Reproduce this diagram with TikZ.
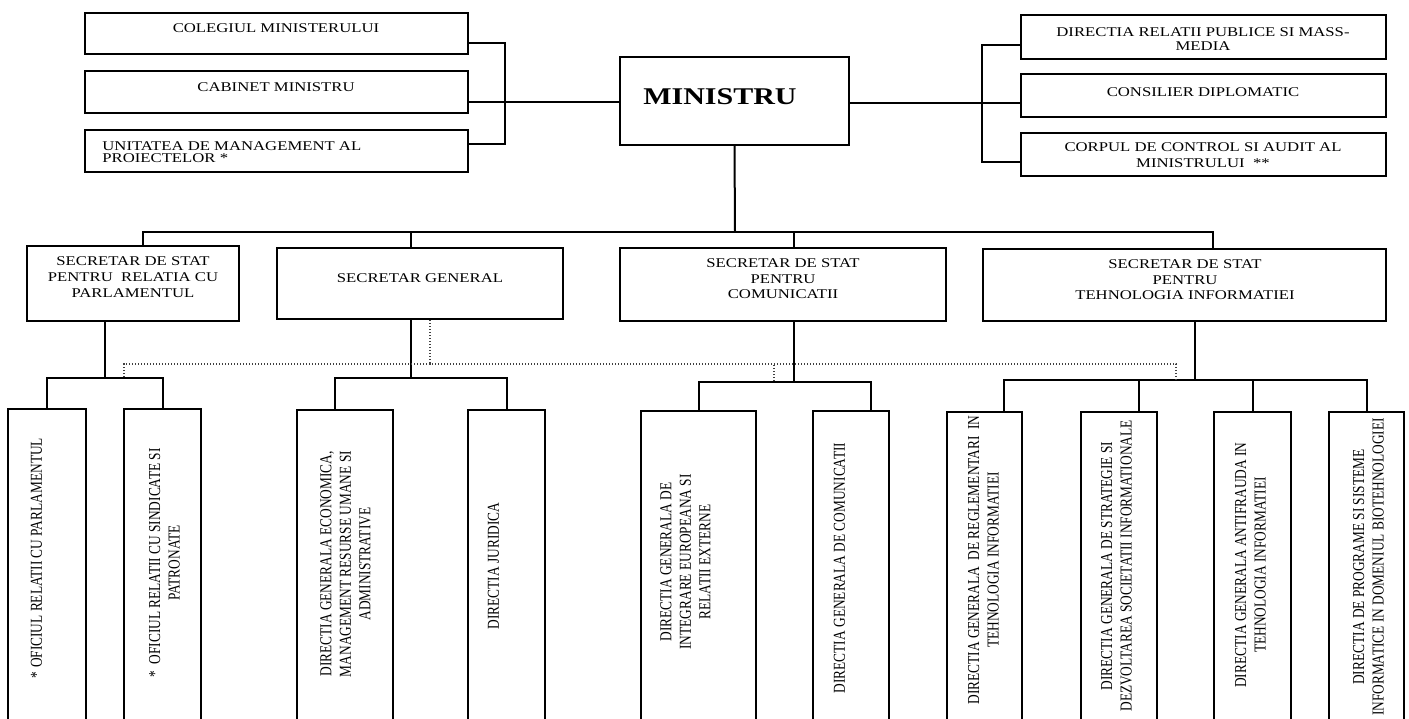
\documentclass[tikz,border=0pt]{standalone}
\usepackage{fontspec}
\setmainfont{Liberation Serif}
\usepackage{graphicx}
\usetikzlibrary{fit,calc}
\newcommand{\htx}[2]{\scalebox{1}[0.8]{\fontsize{8.35pt}{#1}\selectfont\begin{tabular}{@{}c@{}}#2\end{tabular}}}
\newcommand{\htl}[2]{\scalebox{1}[0.8]{\fontsize{8.35pt}{#1}\selectfont\begin{tabular}{@{}l@{}}#2\end{tabular}}}
\newcommand{\vtx}[1]{\scalebox{1}[0.8]{\rotatebox{90}{\fontsize{8.35pt}{9.75pt}\selectfont\begin{tabular}{@{}c@{}}#1\end{tabular}}}}
\tikzset{
  bx/.style={draw=black, line width=1pt, inner sep=0pt},
  tx/.style={inner sep=0pt, text=black},
  ln/.style={draw=black, line width=1pt},
  dt/.style={draw=black!75, line width=0.7pt, dash pattern=on 0.7pt off 0.8pt}
}
\begin{document}
\begin{tikzpicture}[x=0.5pt, y=-0.5pt]
\useasboundingbox (0,0) rectangle (1409,718);
\fill[white] (0,0) rectangle (1409,718);
\clip (0,0) rectangle (1409,718);

% ---- top left
\node[bx, fit={(85,13) (468,54)}] (colegiul) {};
\node[bx, fit={(85,71) (468,113)}] (cabinet) {};
\node[bx, fit={(85,130) (468,172)}] (unitatea) {};
\node[tx] at (276,29) {\htx{10pt}{COLEGIUL MINISTERULUI}};
\node[tx] at (276,88) {\htx{10pt}{CABINET MINISTRU}};
\node[tx, anchor=west] at (102,154) {\htl{7.8pt}{UNITATEA DE MANAGEMENT AL\\PROIECTELOR *}};

% ---- minister
\node[bx, fit={(620,57) (849,145)}] (ministru) {};
\node[tx] at (720,97) {\scalebox{1}[0.8]{\fontsize{15pt}{18pt}\selectfont\bfseries MINISTRU}};

% ---- top right
\node[bx, fit={(1021,15) (1386,59)}] (dirrel) {};
\node[bx, fit={(1021,74) (1386,117)}] (consilier) {};
\node[bx, fit={(1021,133) (1386,176)}] (corpul) {};
\node[tx] at (1203,41) {\htx{8.9pt}{DIRECTIA RELATII PUBLICE SI MASS-\\MEDIA}};
\node[tx] at (1203,93) {\htx{10pt}{CONSILIER DIPLOMATIC}};
\node[tx] at (1203,156.5) {\htx{9.4pt}{CORPUL DE CONTROL SI AUDIT AL\\MINISTRULUI\ \ **}};

% ---- secretaries
\node[bx, fit={(27,246) (239,321)}] (sec1) {};
\node[bx, fit={(277,248) (563,319)}] (secgen) {};
\node[bx, fit={(620,248) (946,321)}] (sec3) {};
\node[bx, fit={(983,249) (1386,321)}] (sec4) {};
\node[tx] at (133,278) {\htx{10pt}{SECRETAR DE STAT\\PENTRU\ \ RELATIA CU\\PARLAMENTUL}};
\node[tx] at (420,279) {\htx{10pt}{SECRETAR GENERAL}};
\node[tx] at (783,280) {\htx{9.6pt}{SECRETAR DE STAT\\PENTRU\\COMUNICATII}};
\node[tx] at (1185,281) {\htx{9.6pt}{SECRETAR DE STAT\\PENTRU\\TEHNOLOGIA INFORMATIEI}};

% ---- bottom row
\node[bx, fit={(8,409) (86,724)}] (b1) {};
\node[bx, fit={(124,409) (201,724)}] (b2) {};
\node[bx, fit={(297,410) (393,724)}] (b3) {};
\node[bx, fit={(468,410) (545,724)}] (b4) {};
\node[bx, fit={(641,411) (756,724)}] (b5) {};
\node[bx, fit={(813,411) (889,724)}] (b6) {};
\node[bx, fit={(947,412) (1022,724)}] (b7) {};
\node[bx, fit={(1081,412) (1157,724)}] (b8) {};
\node[bx, fit={(1214,412) (1291,724)}] (b9) {};
\node[bx, fit={(1329,412) (1404,724)}] (b10) {};
\node[tx] at (38,558) {\vtx{* OFICIUL RELATII CU PARLAMENTUL}};
\node[tx] at (166,563) {\vtx{*\ \ OFICIUL RELATII CU SINDICATE SI\\PATRONATE}};
\node[tx] at (347,564) {\vtx{DIRECTIA GENERALA ECONOMICA,\\MANAGEMENT RESURSE UMANE SI\\ADMINISTRATIVE}};
\node[tx] at (495,566) {\vtx{DIRECTIA JURIDICA}};
\node[tx] at (687,562) {\vtx{DIRECTIA GENERALA DE\\INTEGRARE EUROPEANA SI\\RELATII EXTERNE}};
\node[tx] at (841,568) {\vtx{DIRECTIA GENERALA DE COMUNICATII}};
\node[tx] at (985,560) {\vtx{DIRECTIA GENERALA\ \ DE REGLEMENTARI\ \ IN\\TEHNOLOGIA INFORMATIEI}};
\node[tx] at (1118,566) {\vtx{DIRECTIA GENERALA DE STRATEGIE SI\\DEZVOLTAREA SOCIETATII INFORMATIONALE}};
\node[tx] at (1252,565) {\vtx{DIRECTIA GENERALA ANTIFRAUDA IN\\TEHNOLOGIA INFORMATIEI}};
\node[tx] at (1370,567) {\vtx{DIRECTIA DE PROGRAME SI SISTEME\\INFORMATICE IN DOMENIUL BIOTEHNOLOGIEI}};

% ---- connectors top
\coordinate (lb) at (505,102);
\draw[ln] ($(colegiul.north east)!0.73!(colegiul.south east)$) -| (lb) |- ($(unitatea.north east)!0.34!(unitatea.south east)$);
\draw[ln] (cabinet.east |- lb) -- (ministru.west |- lb);
\coordinate (rb) at (982,103);
\draw[ln] ($(dirrel.north west)!0.68!(dirrel.south west)$) -| (rb) |- ($(corpul.north west)!0.67!(corpul.south west)$);
\draw[ln] (ministru.east |- rb) -- (consilier.west |- rb);

% ---- bus
\coordinate (bus) at (735,232);
\coordinate (d1) at ($(sec1.north west)!0.547!(sec1.north east)$);
\coordinate (d2) at ($(secgen.north west)!0.469!(secgen.north east)$);
\coordinate (d3) at ($(sec3.north west)!0.532!(sec3.north east)$);
\coordinate (d4) at ($(sec4.north west)!0.571!(sec4.north east)$);
\draw[ln] (ministru.south) -- (bus);
\draw[ln] (d1) |- (bus) -| (d4);
\draw[ln] (d2) -- (d2 |- bus);
\draw[ln] (d3) -- (d3 |- bus);

% ---- children
\coordinate (j1) at (105,378);
\draw[ln] (j1 |- sec1.south) -- (j1);
\draw[ln] (b1.north) |- (j1) -| (b2.north);

\coordinate (j2) at (411,378);
\draw[ln] (j2 |- secgen.south) -- (j2);
\draw[ln] ($(b3.north west)!0.396!(b3.north east)$) |- (j2) -| (b4.north);

\coordinate (j3) at (794,382);
\draw[ln] (j3 |- sec3.south) -- (j3);
\draw[ln] (b5.north) |- (j3) -| ($(b6.north west)!0.75!(b6.north east)$);

\coordinate (j4) at (1195,380);
\coordinate (e7) at ($(b7.north west)!0.747!(b7.north east)$);
\coordinate (e8) at ($(b8.north west)!0.75!(b8.north east)$);
\draw[ln] (j4 |- sec4.south) -- (j4);
\draw[ln] (e7) |- (j4) -| (b10.north);
\draw[ln] (e8) -- (e8 |- j4);
\draw[ln] (b9.north) -- (b9.north |- j4);

% ---- dotted
\coordinate (dj) at (430,364);
\coordinate (dl) at (124,377);
\coordinate (dm) at (774,381);
\coordinate (dr) at (1176,380);
\draw[dt] (dj |- secgen.south) -- (dj);
\draw[dt] (dl) |- (dj) -| (dr);
\draw[dt] (dm) -- (dm |- dj);
\end{tikzpicture}
\end{document}
